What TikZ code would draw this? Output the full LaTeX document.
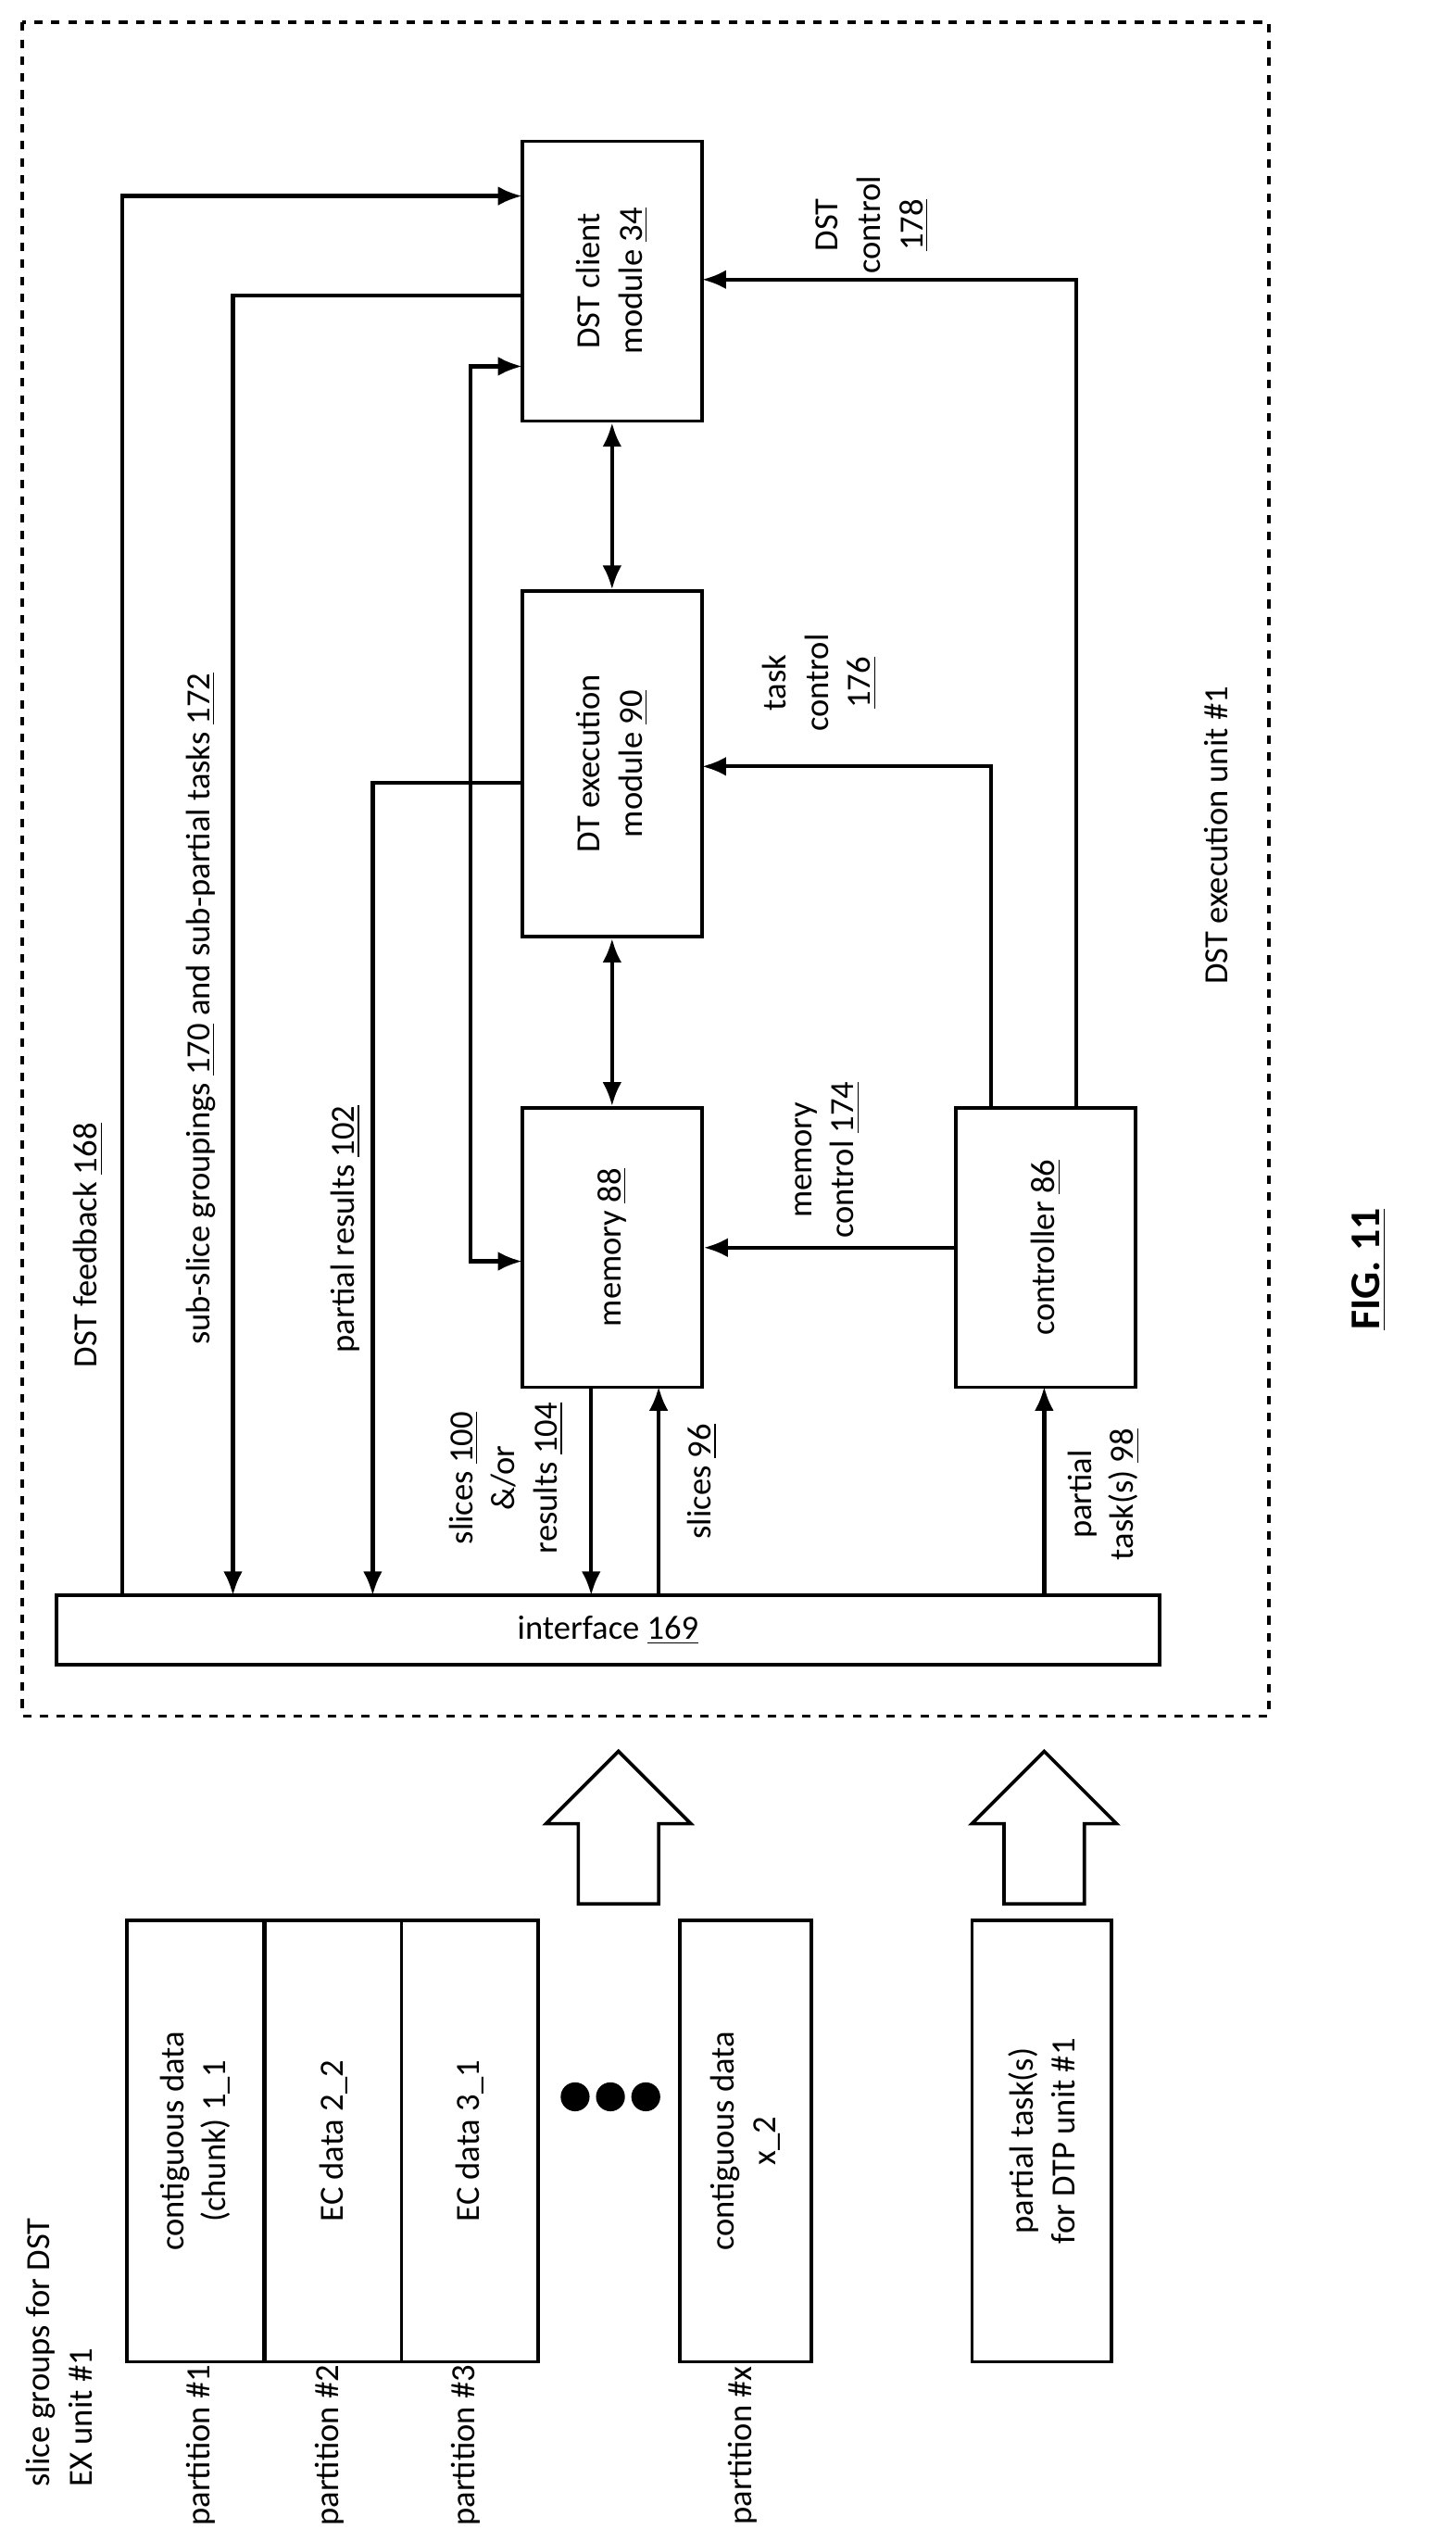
\documentclass[tikz,border=0pt]{standalone}
\usepackage{fontspec}
\setmainfont{Carlito}
\usetikzlibrary{arrows.meta}
\begin{document}
\begin{tikzpicture}[x=0.02cm,y=-0.02cm,
  every node/.style={font=\fontsize{12}{15}\selectfont, inner sep=0pt},
  box/.style={draw, line width=1.2pt, minimum width=2.24cm, minimum height=3.48cm},
  pbox/.style={draw, line width=1.2pt, minimum width=1.7cm, minimum height=5.5cm},
  con/.style={line width=1.4pt, -{Latex[length=3mm,width=2.4mm]}},
  dcon/.style={line width=1.4pt, {Latex[length=3mm,width=2.4mm]}-{Latex[length=3mm,width=2.4mm]}},
  rt/.style={rotate=90, align=center}]
\useasboundingbox (0,0) rectangle (906,1574);
\draw[dashed, line width=1.2pt] (14,14) rectangle (790,1068);
% boxes
\node[draw, line width=1.2pt, minimum width=13.74cm, minimum height=0.86cm] (iface) at (378.5,1014.5) {interface \underline{169}};
\node[box] (dst) at (381,175) {};
\node[rt] at (381,175) {DST client\\module \underline{34}};
\node[box, minimum height=4.3cm] (dte) at (381,475.5) {};
\node[rt] at (381,475.5) {DT execution\\module \underline{90}};
\node[box] (mem) at (381,776.5) {};
\node[rt] at (381,776.5) {memory \underline{88}};
\node[box] (ctl) at (651,776.5) {};
\node[rt] at (651,776.5) {controller \underline{86}};
% connectors
\draw[con] (76,993) -- (76,122) -- (325,122);
\draw[con] (325,184) -- (145,184) -- (145,993);
\draw[con] (325,487) -- (232,487) -- (232,993);
\draw[dcon] (325,228) -- (293,228) -- (293,785) -- (325,785);
\draw[dcon] (dst.south) -- (dte.north);
\draw[dcon] (dte.south) -- (mem.north);
\draw[con] (368,863) -- (368,993);
\draw[con] (410,993) -- (410,863);
\draw[con] (ctl.west) -- (mem.east);
\draw[con] (617,690) -- (617,477) -- (437,477);
\draw[con] (670,690) -- (670,174) -- (437,174);
\draw[con] (650,993) -- (650,863);
% labels
\node[rt] at (55,775) {DST feedback \underline{168}};
\node[rt] at (125,628) {sub-slice groupings \underline{170} and sub-partial tasks \underline{172}};
\node[rt] at (215,765) {partial results \underline{102}};
\node[rt] at (315,920) {slices \underline{100}\\\&/or\\results \underline{104}};
\node[rt] at (437,922) {slices \underline{96}};
\node[rt] at (515,722) {memory\\control \underline{174}};
\node[rt] at (510,425) {task\\control\\\underline{176}};
\node[rt] at (543,140) {DST\\control\\\underline{178}};
\node[rt] at (757,520) {DST execution unit \#1};
\node[rt] at (687,930) {partial\\task(s) \underline{98}};
\node[rotate=90, font=\fontsize{15}{17}\selectfont\bfseries] at (852,790) {\underline{FIG. 11}};
% big hollow arrows
\foreach \cx in {385,650}{
  \draw[line width=1.2pt] (\cx,1090) -- (\cx+45,1135) -- (\cx+25,1135) -- (\cx+25,1185) -- (\cx-25,1185) -- (\cx-25,1135) -- (\cx-45,1135) -- cycle;}
% left side
\node[rotate=90, align=left, anchor=north west] at (16,1548) {slice groups for DST\\EX unit \#1};
\node[pbox] (p1) at (121.5,1332.5) {};
\node[rt] at (121.5,1332.5) {contiguous data\\(chunk) 1\_1};
\node[pbox] (p2) at (207.5,1332.5) {};
\node[rt] at (207.5,1332.5) {EC data 2\_2};
\node[pbox] (p3) at (292.5,1332.5) {};
\node[rt] at (292.5,1332.5) {EC data 3\_1};
\foreach \dx in {358,380,402}{\fill (\dx,1305) circle (9);}
\node[pbox, minimum width=1.64cm] (px) at (464,1332.5) {};
\node[rt] at (464,1332.5) {contiguous data\\x\_2};
\node[pbox, minimum width=1.74cm] (pt) at (648.5,1332.5) {};
\node[rt] at (648.5,1332.5) {partial task(s)\\for DTP unit \#1};
\node[rt] at (125,1522) {partition \#1};
\node[rt] at (205,1522) {partition \#2};
\node[rt] at (290,1522) {partition \#3};
\node[rt] at (462,1522) {partition \#x};
\end{tikzpicture}
\end{document}
